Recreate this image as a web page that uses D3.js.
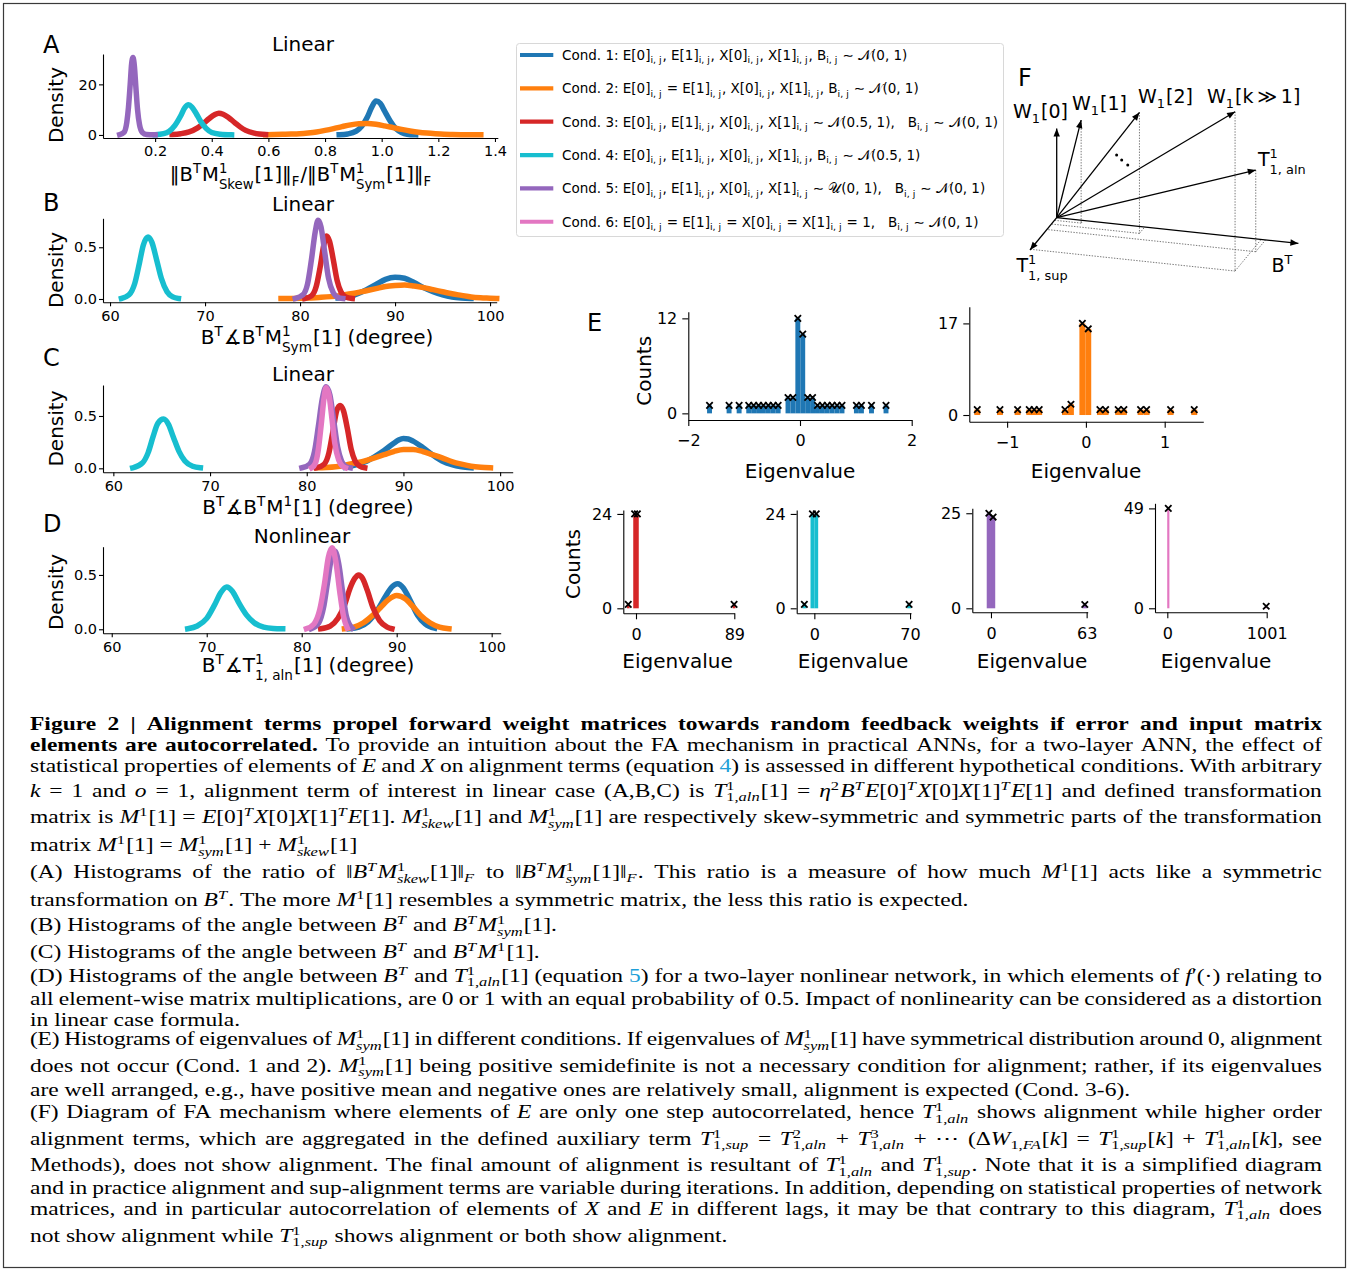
<!DOCTYPE html>
<html>
<head>
<meta charset="utf-8">
<title>Figure 2</title>
<script src="https://cdn.jsdelivr.net/npm/d3@7"></script>
<style>
  html, body { margin: 0; padding: 0; background: #fff; }
  svg text { white-space: pre; }
</style>
</head>
<body>
<svg id="fig" width="1349" height="1272" xmlns="http://www.w3.org/2000/svg"></svg>
<script>
// ---------- colours of the six conditions ----------
const condColors = ["#1f77b4", "#ff7f0e", "#d62728", "#17becf", "#9467bd", "#e377c2"];

// ---------- Panel A: ||B^T M_skew||_F / ||B^T M_sym||_F, density per condition ----------
const A_c1_x = [0.85, 0.88, 0.91, 0.93, 0.95, 0.965, 0.98, 0.995, 1.01, 1.03, 1.05, 1.07, 1.09, 1.12];
const A_c1_y = [0.1, 0.4, 1.5, 3.5, 7.2, 11, 13.4, 12.5, 9.5, 5.5, 2.5, 1.0, 0.3, 0.05];
const A_c2_x = [0.59, 0.62, 0.65, 0.68, 0.71, 0.74, 0.77, 0.80, 0.83, 0.86, 0.89, 0.92, 0.95, 0.98, 1.01, 1.04, 1.07, 1.10, 1.13, 1.16, 1.19, 1.22, 1.25, 1.28, 1.31, 1.35];
const A_c2_y = [0.1, 0.15, 0.25, 0.35, 0.5, 0.8, 1.2, 1.8, 2.5, 3.3, 4.0, 4.4, 4.5, 4.2, 3.6, 2.9, 2.2, 1.6, 1.1, 0.75, 0.5, 0.3, 0.2, 0.12, 0.08, 0.05];
const A_c3_x = [0.26, 0.29, 0.32, 0.35, 0.37, 0.39, 0.41, 0.425, 0.44, 0.46, 0.48, 0.50, 0.52, 0.55, 0.59];
const A_c3_y = [0.2, 0.5, 1.2, 2.8, 4.5, 6.4, 8.0, 8.6, 8.2, 6.8, 5.0, 3.2, 1.8, 0.7, 0.15];
const A_c4_x = [0.20, 0.23, 0.25, 0.27, 0.29, 0.305, 0.318, 0.33, 0.345, 0.36, 0.38, 0.40, 0.43, 0.47];
const A_c4_y = [0.1, 0.5, 1.5, 3.8, 7.5, 10.8, 11.9, 11.0, 8.5, 5.5, 2.6, 1.0, 0.3, 0.05];
const A_c5_x = [0.075, 0.09, 0.10, 0.106, 0.112, 0.117, 0.122, 0.127, 0.132, 0.138, 0.145, 0.155, 0.17, 0.2];
const A_c5_y = [0.1, 1.0, 5, 11, 20, 28, 30.6, 27, 19, 10, 4, 1, 0.2, 0.05];

// ---------- Panel B: angle between B^T and B^T M_sym (degree) ----------
const B_c1_x = [84, 85, 86, 87, 88, 89, 90, 91, 92, 93, 94, 95, 96, 97, 98];
const B_c1_y = [0.01, 0.02, 0.05, 0.09, 0.14, 0.19, 0.21, 0.2, 0.16, 0.11, 0.07, 0.04, 0.02, 0.01, 0.005];
const B_c2_x = [78, 80, 82, 84, 85, 86, 87, 88, 89, 90, 91, 92, 93, 94, 95, 96, 97, 98, 99, 100, 100.7];
const B_c2_y = [0.005, 0.008, 0.015, 0.03, 0.045, 0.06, 0.08, 0.1, 0.12, 0.13, 0.135, 0.125, 0.11, 0.09, 0.07, 0.05, 0.035, 0.02, 0.012, 0.008, 0.005];
const B_c3_x = [80.5, 81.2, 81.7, 82.1, 82.5, 82.8, 83.1, 83.5, 83.9, 84.3, 84.8, 85.5];
const B_c3_y = [0.005, 0.03, 0.12, 0.3, 0.52, 0.61, 0.56, 0.38, 0.18, 0.07, 0.02, 0.005];
const B_c4_x = [61.2, 62, 62.6, 63.1, 63.5, 64, 64.4, 64.9, 65.4, 66, 66.6, 67.2];
const B_c4_y = [0.005, 0.04, 0.15, 0.35, 0.52, 0.6, 0.55, 0.38, 0.2, 0.07, 0.02, 0.005];
const B_c5_x = [79.5, 80.3, 80.8, 81.2, 81.6, 81.9, 82.2, 82.6, 83.0, 83.5, 84.0, 84.5];
const B_c5_y = [0.005, 0.04, 0.15, 0.38, 0.65, 0.76, 0.7, 0.45, 0.2, 0.06, 0.015, 0.005];

// ---------- Panel C: angle between B^T and B^T M (degree) ----------
const C_c1_x = [84, 85, 86, 87, 88, 89, 89.5, 90, 90.5, 91, 92, 93, 94, 95, 96, 97];
const C_c1_y = [0.01, 0.03, 0.06, 0.11, 0.17, 0.24, 0.27, 0.285, 0.28, 0.26, 0.2, 0.13, 0.07, 0.035, 0.015, 0.005];
const C_c2_x = [81, 82, 83, 84, 85, 86, 87, 88, 89, 90, 91, 92, 93, 94, 95, 96, 97, 98, 99];
const C_c2_y = [0.005, 0.008, 0.015, 0.03, 0.05, 0.07, 0.1, 0.13, 0.16, 0.18, 0.18, 0.16, 0.13, 0.1, 0.065, 0.04, 0.02, 0.01, 0.005];
const C_c3_x = [81, 81.8, 82.3, 82.7, 83.1, 83.45, 83.8, 84.2, 84.6, 85, 85.5, 86];
const C_c3_y = [0.005, 0.04, 0.15, 0.35, 0.55, 0.6, 0.55, 0.38, 0.18, 0.07, 0.02, 0.005];
const C_c4_x = [62, 63, 63.6, 64.1, 64.6, 65.2, 65.7, 66.2, 66.8, 67.4, 68.2, 69];
const C_c4_y = [0.005, 0.05, 0.15, 0.3, 0.43, 0.47, 0.42, 0.3, 0.16, 0.07, 0.02, 0.005];
const C_c5_x = [79.5, 80.3, 80.8, 81.2, 81.6, 82, 82.4, 82.8, 83.2, 83.6, 84.0, 84.5];
const C_c5_y = [0.005, 0.04, 0.16, 0.4, 0.66, 0.78, 0.7, 0.45, 0.2, 0.07, 0.02, 0.005];
const C_c6_x = [80.5, 80.9, 81.2, 81.5, 81.8, 82, 82.3, 82.6, 82.9, 83.3, 83.7, 84.0];
const C_c6_y = [0.005, 0.05, 0.18, 0.42, 0.68, 0.77, 0.7, 0.48, 0.24, 0.08, 0.02, 0.005];

// ---------- Panel D: angle between B^T and T_aln, nonlinear network (degree) ----------
const D_c1_x = [85, 86, 87, 88, 88.8, 89.5, 90.1, 90.7, 91.4, 92.2, 93, 94];
const D_c1_y = [0.005, 0.02, 0.07, 0.18, 0.3, 0.39, 0.42, 0.38, 0.27, 0.13, 0.05, 0.01];
const D_c2_x = [84.5, 85.5, 86.5, 87.5, 88.3, 89.1, 90, 90.9, 91.7, 92.5, 93.5, 94.5, 95.5];
const D_c2_y = [0.005, 0.02, 0.06, 0.13, 0.2, 0.27, 0.31, 0.28, 0.21, 0.13, 0.06, 0.02, 0.005];
const D_c3_x = [82, 83, 83.8, 84.5, 85.1, 85.6, 86, 86.4, 86.9, 87.5, 88.2, 89, 89.5];
const D_c3_y = [0.005, 0.03, 0.1, 0.22, 0.38, 0.47, 0.5, 0.47, 0.36, 0.2, 0.08, 0.02, 0.005];
const D_c4_x = [68, 69, 70, 70.8, 71.5, 72.1, 72.7, 73.4, 74.2, 75, 76, 77, 78];
const D_c4_y = [0.005, 0.03, 0.1, 0.22, 0.34, 0.39, 0.35, 0.24, 0.13, 0.06, 0.02, 0.008, 0.005];
const D_c5_x = [81, 81.8, 82.3, 82.7, 83.1, 83.5, 83.9, 84.3, 84.7, 85.3];
const D_c5_y = [0.005, 0.06, 0.2, 0.42, 0.64, 0.72, 0.6, 0.35, 0.12, 0.01];
const D_c6_x = [80.5, 81.3, 81.9, 82.4, 82.8, 83.2, 83.6, 84, 84.4, 84.8];
const D_c6_y = [0.005, 0.05, 0.18, 0.42, 0.66, 0.75, 0.62, 0.35, 0.12, 0.01];

// ---------- Panel E: eigenvalue histograms of M_sym (bin centres and counts) ----------
const eig1Centers = [-1.62, -1.27, -1.09, -0.918, -0.830, -0.742, -0.655, -0.567, -0.479, -0.391, -0.215, -0.127, -0.039, 0.049, 0.137, 0.225, 0.313, 0.401, 0.488, 0.576, 0.664, 0.752, 1.01, 1.10, 1.28, 1.54];
const eig1Counts  = [1, 1, 1, 1, 1, 1, 1, 1, 1, 1, 2, 2, 12, 10, 2, 2, 1, 1, 1, 1, 1, 1, 1, 1, 1, 1];
const eig1BinWidth = 0.088;
const eig2Centers = [-1.379, -1.091, -0.867, -0.719, -0.656, -0.593, -0.266, -0.19, -0.045, 0.03, 0.178, 0.25, 0.41, 0.482, 0.694, 0.77, 1.075, 1.375];
const eig2Counts  = [1, 1, 1, 1, 1, 1, 1, 2, 17, 16, 1, 1, 1, 1, 1, 1, 1, 1];
const eig2BinWidth = 0.075;
const eig3Centers = [-7, -1.25, 1.25, 88.8];
const eig3Counts  = [1, 24, 24, 1];
const eig3BinWidth = 2.5;
const eig4Centers = [-7.3, -1.4, 1.4, 69.3];
const eig4Counts  = [1, 24, 24, 1];
const eig4BinWidth = 2.8;
const eig5Centers = [-1.4, 1.4, 61.8];
const eig5Counts  = [25, 24, 1];
const eig5BinWidth = 2.8;
const eig6Centers = [10, 996];
const eig6Counts  = [49, 1];
const eig6BinWidth = 22;

// ---------- Legend entries ----------
const legendLabels = [
  "Cond. 1: E[0]$_{i, j}$, E[1]$_{i, j}$, X[0]$_{i, j}$, X[1]$_{i, j}$, B$_{i, j}$ ∼ 𝒩(0, 1)",
  "Cond. 2: E[0]$_{i, j}$ = E[1]$_{i, j}$, X[0]$_{i, j}$, X[1]$_{i, j}$, B$_{i, j}$ ∼ 𝒩(0, 1)",
  "Cond. 3: E[0]$_{i, j}$, E[1]$_{i, j}$, X[0]$_{i, j}$, X[1]$_{i, j}$ ∼ 𝒩(0.5, 1),   B$_{i, j}$ ∼ 𝒩(0, 1)",
  "Cond. 4: E[0]$_{i, j}$, E[1]$_{i, j}$, X[0]$_{i, j}$, X[1]$_{i, j}$, B$_{i, j}$ ∼ 𝒩(0.5, 1)",
  "Cond. 5: E[0]$_{i, j}$, E[1]$_{i, j}$, X[0]$_{i, j}$, X[1]$_{i, j}$ ∼ 𝒰(0, 1),   B$_{i, j}$ ∼ 𝒩(0, 1)",
  "Cond. 6: E[0]$_{i, j}$ = E[1]$_{i, j}$ = X[0]$_{i, j}$ = X[1]$_{i, j}$ = 1,   B$_{i, j}$ ∼ 𝒩(0, 1)"
];

// ---------- Panel F: vectors in (B^T, T_sup, vertical) coordinates ----------
const fVecLabels = ["$W_1[0]$", "$W_1[1]$", "$W_1[2]$", "$W_1[k\\,\\gg\\,1]$", "$T^1_{1, aln}$"];
const fVecAlongB = [0, 0.11, 0.364, 0.846, 0.864];
const fVecAlongSup = [0, 0.08, 0.196, 0.978, 0.366];
const fVecHeight = [0.893, 1.03, 1.21, 1.593, 0.817];
const fDotsAlongB = [0.248, 0.269, 0.294];
const fDotsHeight = [0.691, 0.646, 0.603];

// ---------- Caption ----------
const captionLines = [
  "**Figure 2 | Alignment terms propel forward weight matrices towards random feedback weights if error and input matrix**",
  "**elements are autocorrelated.** To provide an intuition about the FA mechanism in practical ANNs, for a two-layer ANN, the effect of",
  "statistical properties of elements of $E$ and $X$ on alignment terms (equation @4@) is assessed in different hypothetical conditions. With arbitrary",
  "$k$ = 1 and $o$ = 1, alignment term of interest in linear case (A,B,C) is $T^1_{1,aln}[1]$ = $\\eta^2B^TE[0]^TX[0]X[1]^TE[1]$ and defined transformation",
  "matrix is $M^1[1]$ = $E[0]^TX[0]X[1]^TE[1]$. $M^1_{skew}[1]$ and $M^1_{sym}[1]$ are respectively skew-symmetric and symmetric parts of the transformation",
  "matrix $M^1[1]$ = $M^1_{sym}[1]$ + $M^1_{skew}[1]$",
  "(A) Histograms of the ratio of $\\|B^TM^1_{skew}[1]\\|_F$ to $\\|B^TM^1_{sym}[1]\\|_F$. This ratio is a measure of how much $M^1[1]$ acts like a symmetric",
  "transformation on $B^T$. The more $M^1[1]$ resembles a symmetric matrix, the less this ratio is expected.",
  "(B) Histograms of the angle between $B^T$ and $B^TM^1_{sym}[1]$.",
  "(C) Histograms of the angle between $B^T$ and $B^TM^1[1]$.",
  "(D) Histograms of the angle between $B^T$ and $T^1_{1,aln}[1]$ (equation @5@) for a two-layer nonlinear network, in which elements of $f'(\\cdot)$ relating to",
  "all element-wise matrix multiplications, are 0 or 1 with an equal probability of 0.5. Impact of nonlinearity can be considered as a distortion",
  "in linear case formula.",
  "(E) Histograms of eigenvalues of $M^1_{sym}[1]$ in different conditions. If eigenvalues of $M^1_{sym}[1]$ have symmetrical distribution around 0, alignment",
  "does not occur (Cond. 1 and 2). $M^1_{sym}[1]$ being positive semidefinite is not a necessary condition for alignment; rather, if its eigenvalues",
  "are well arranged, e.g., have positive mean and negative ones are relatively small, alignment is expected (Cond. 3-6).",
  "(F) Diagram of FA mechanism where elements of $E$ are only one step autocorrelated, hence $T^1_{1,aln}$ shows alignment while higher order",
  "alignment terms, which are aggregated in the defined auxiliary term $T^1_{1,sup}$ = $T^2_{1,aln}$ + $T^3_{1,aln}$ + $\\cdots$ ($\\Delta W_{1,FA}[k]$ = $T^1_{1,sup}[k]$ + $T^1_{1,aln}[k]$, see",
  "Methods), does not show alignment. The final amount of alignment is resultant of $T^1_{1,aln}$ and $T^1_{1,sup}$. Note that it is a simplified diagram",
  "and in practice alignment and sup-alignment terms are variable during iterations. In addition, depending on statistical properties of network",
  "matrices, and in particular autocorrelation of elements of $X$ and $E$ in different lags, it may be that contrary to this diagram, $T^1_{1,aln}$ does",
  "not show alignment while $T^1_{1,sup}$ shows alignment or both show alignment."
];
const captionJustified = [1, 1, 1, 1, 1, 0, 1, 0, 0, 0, 1, 1, 0, 1, 1, 0, 1, 1, 1, 1, 1, 0];

// =====================================================================
const SANS = "DejaVu Sans";
const SERIF = "Liberation Serif";
const LINK = "#1e9fd8";
const svg = d3.select("#fig");
svg.append("rect").attr("width", 1349).attr("height", 1272).attr("fill", "#fff");
svg.append("rect").attr("x", 3.5).attr("y", 3.5).attr("width", 1342).attr("height", 1264)
  .attr("fill", "none").attr("stroke", "#3a3a3a").attr("stroke-width", 1.2);

// ---------- small rich-text engine: $math$, ^{sup}, _{sub}, **bold**, @link@ ----------
const measurer = svg.append("text").attr("x", -2000).attr("y", -2000).style("white-space", "pre");
const widthCache = new Map();
function textWidth(t, fam, size, weight, style) {
  const key = [t, fam, size, weight, style].join("|");
  if (widthCache.has(key)) return widthCache.get(key);
  measurer.attr("font-family", fam).attr("font-size", size).attr("font-weight", weight).attr("font-style", style).text(t);
  const w = measurer.node().getComputedTextLength();
  widthCache.set(key, w);
  return w;
}
const CMD = { eta: "η", Delta: "Δ", cdots: "⋯", cdot: "·", angle: "∡", gg: "≫", sim: "∼", "|": "‖", ",": "\u2009" };

function parseRich(src, italicMath) {
  const atoms = [];
  let i = 0, bold = false, math = false, color = null;
  const italicChar = ch => italicMath && /[A-Za-zη]/.test(ch);
  function add(list, ch, st) {
    const last = list[list.length - 1];
    if (last && last.type === "text" && last.bold === st.bold && last.italic === st.italic && last.color === st.color) last.t += ch;
    else list.push({ type: "text", t: ch, bold: st.bold, italic: st.italic, color: st.color });
  }
  function readCmd(s, j) {
    const m = /^\\([A-Za-z]+|.)/.exec(s.slice(j));
    return [CMD[m[1]] !== undefined ? CMD[m[1]] : m[1], m[0].length];
  }
  function readGroup() {
    if (src[i] === "{") {
      let d = 1, j = i + 1;
      while (d) { if (src[j] === "{") d++; else if (src[j] === "}") d--; j++; }
      const g = src.slice(i + 1, j - 1); i = j; return g;
    }
    if (src[i] === "\\") { const m = /^\\([A-Za-z]+|.)/.exec(src.slice(i)); i += m[0].length; return m[0]; }
    return src[i++];
  }
  function groupRuns(g) {
    const runs = []; let j = 0;
    while (j < g.length) {
      if (g[j] === "\\") { const [s, n] = readCmd(g, j); j += n; add(runs, s, { bold, italic: italicChar(s), color }); continue; }
      add(runs, g[j], { bold, italic: italicChar(g[j]), color }); j++;
    }
    return runs;
  }
  while (i < src.length) {
    const c = src[i];
    if (src.startsWith("**", i)) { bold = !bold; i += 2; continue; }
    if (c === "$") { math = !math; i++; continue; }
    if (c === "@") { color = color ? null : LINK; i++; continue; }
    if (math) {
      if (c === " ") { i++; continue; }
      if (c === "^" || c === "_") {
        const sc = { type: "script", sup: null, sub: null };
        while (i < src.length && (src[i] === "^" || src[i] === "_")) {
          const k = src[i++]; const g = readGroup();
          if (k === "^") sc.sup = groupRuns(g); else sc.sub = groupRuns(g);
        }
        atoms.push(sc); continue;
      }
      if (c === "\\") { const [s, n] = readCmd(src, i); i += n; add(atoms, s, { bold, italic: italicChar(s), color }); continue; }
      if (c === "'") { add(atoms, "′", { bold, italic: false, color }); i++; continue; }
      add(atoms, c, { bold, italic: italicChar(c), color }); i++; continue;
    }
    if (c === " ") { atoms.push({ type: "space" }); i++; continue; }
    add(atoms, c, { bold, italic: false, color }); i++;
  }
  return atoms;
}

function richText(parent, src, o) {
  const fam = o.family || SANS, size = o.size, ss = size * (o.scriptScale || 0.7);
  const baseWeight = o.weight || "normal";
  const atoms = parseRich(src, !!o.italicMath);
  const fw = r => (r.bold ? "bold" : baseWeight);
  const fs = r => (r.italic ? "italic" : "normal");
  const spaceW = textWidth("x x", fam, size, baseWeight, "normal") - textWidth("xx", fam, size, baseWeight, "normal");
  let nChars = 0;
  atoms.forEach(a => {
    if (a.type === "space") a.w = spaceW;
    else if (a.type === "text") { a.w = textWidth(a.t, fam, size, fw(a), fs(a)); nChars += [...a.t].length; }
    else {
      a.supW = a.sup ? d3.sum(a.sup, r => (r.w = textWidth(r.t, fam, ss, fw(r), fs(r)))) : 0;
      a.subW = a.sub ? d3.sum(a.sub, r => (r.w = textWidth(r.t, fam, ss, fw(r), fs(r)))) : 0;
      a.w = Math.max(a.supW, a.subW) + size * 0.05;
    }
  });
  const natural = d3.sum(atoms, a => a.w);
  const nSp = atoms.filter(a => a.type === "space").length;
  let extra = 0, ls = 0;
  if (o.justify) {
    let gap = o.justify - natural;
    if (nSp) { extra = Math.max(-0.15 * spaceW, Math.min(gap / nSp, spaceW * (o.maxStretch || 1.0))); gap -= extra * nSp; }
    if (nChars) ls = gap / nChars;
  }
  const total = natural + extra * nSp + ls * nChars;
  let x = o.anchor === "middle" ? o.x - total / 2 : o.anchor === "end" ? o.x - total : o.x;
  const text = parent.append("text").attr("font-family", fam).attr("font-size", size)
    .attr("font-weight", baseWeight).attr("fill", o.fill || "#000").style("white-space", "pre");
  const put = (r, px, py, fsz) => {
    const t = text.append("tspan").attr("x", px.toFixed(2)).attr("y", py.toFixed(2)).text(r.t);
    if (fsz) t.attr("font-size", fsz);
    if (r.bold) t.attr("font-weight", "bold");
    if (r.italic) t.attr("font-style", "italic");
    if (r.color) t.attr("fill", r.color);
    if (ls && !fsz) t.attr("letter-spacing", ls.toFixed(3));
  };
  atoms.forEach(a => {
    if (a.type === "space") { x += a.w + extra; return; }
    if (a.type === "text") { put(a, x, o.y); x += a.w + ls * [...a.t].length; return; }
    const supDy = size * (o.supRaise !== undefined ? o.supRaise : 0.38);
    const subDy = size * (a.sup ? (o.subDropStack !== undefined ? o.subDropStack : 0.3) : (o.subDrop !== undefined ? o.subDrop : 0.22));
    if (a.sup) { let sx = x; a.sup.forEach(r => { put(r, sx, o.y - supDy, ss); sx += r.w; }); }
    if (a.sub) { let sx = x; a.sub.forEach(r => { put(r, sx, o.y + subDy, ss); sx += r.w; }); }
    x += a.w;
  });
  return text;
}

function plainText(parent, txt, x, y, o = {}) {
  return parent.append("text").attr("x", x).attr("y", y)
    .attr("font-family", o.family || SANS).attr("font-size", o.size || 20)
    .attr("text-anchor", o.anchor || "start").attr("fill", "#000")
    .attr("transform", o.rotate ? `rotate(-90,${x},${y})` : null).text(txt);
}

function styleAxis(a, size) {
  a.attr("font-family", SANS).attr("font-size", size);
  a.selectAll("path, line").attr("stroke", "#000").attr("stroke-width", 1.1);
  a.selectAll("text").attr("fill", "#000");
}

// script placement used by the sans-serif figure labels
const labelScripts = { scriptScale: 0.68, supRaise: 0.4, subDropStack: 0.4, subDrop: 0.24 };

// ---------- density panels A–D ----------
const densityPanels = [
  { letter: "A", title: "Linear", xDomain: [0.016, 1.41], xRange: [103, 497.8], yDomain: [-1.2, 32], yRange: [138, 54],
    xTicks: [0.2, 0.4, 0.6, 0.8, 1.0, 1.2, 1.4], xFmt: d3.format(".1f"), yTicks: [0, 20], yFmt: d3.format("d"),
    series: [[A_c1_x, A_c1_y, 0], [A_c2_x, A_c2_y, 1], [A_c3_x, A_c3_y, 2], [A_c4_x, A_c4_y, 3], [A_c5_x, A_c5_y, 4]],
    letterPos: [43, 53], titlePos: [303, 51], ylabelPos: [62.5, 105],
    xlabel: "$\\|B^TM^1_{Skew}[1]\\|_F/\\|B^TM^1_{Sym}[1]\\|_F$", xlabelPos: [301, 181], xlabelSize: 19.5 },
  { letter: "B", title: "Linear", xDomain: [59.26, 100.7], xRange: [103, 496.7], yDomain: [-0.032, 0.78], yRange: [302.3, 218.3],
    xTicks: [60, 70, 80, 90, 100], xFmt: d3.format("d"), yTicks: [0, 0.5], yFmt: d3.format(".1f"),
    series: [[B_c1_x, B_c1_y, 0], [B_c2_x, B_c2_y, 1], [B_c3_x, B_c3_y, 2], [B_c4_x, B_c4_y, 3], [B_c5_x, B_c5_y, 4]],
    letterPos: [43, 211], titlePos: [303, 210.7], ylabelPos: [62.5, 270],
    xlabel: "$B^T\\angle B^TM^1_{Sym}[1]$ (degree)", xlabelPos: [317, 344], xlabelSize: 20 },
  { letter: "C", title: "Linear", xDomain: [58.93, 101.3], xRange: [103, 512.7], yDomain: [-0.038, 0.796], yRange: [472.3, 385],
    xTicks: [60, 70, 80, 90, 100], xFmt: d3.format("d"), yTicks: [0, 0.5], yFmt: d3.format(".1f"),
    series: [[C_c1_x, C_c1_y, 0], [C_c2_x, C_c2_y, 1], [C_c3_x, C_c3_y, 2], [C_c4_x, C_c4_y, 3], [C_c5_x, C_c5_y, 4], [C_c6_x, C_c6_y, 5]],
    letterPos: [43, 366], titlePos: [303, 380.7], ylabelPos: [62.5, 428.5],
    xlabel: "$B^T\\angle B^TM^1[1]$ (degree)", xlabelPos: [308, 514], xlabelSize: 20 },
  { letter: "D", title: "Nonlinear", xDomain: [59.08, 100.95], xRange: [103, 500.7], yDomain: [-0.037, 0.76], yRange: [633.3, 546.7],
    xTicks: [60, 70, 80, 90, 100], xFmt: d3.format("d"), yTicks: [0, 0.5], yFmt: d3.format(".1f"),
    series: [[D_c1_x, D_c1_y, 0], [D_c2_x, D_c2_y, 1], [D_c3_x, D_c3_y, 2], [D_c4_x, D_c4_y, 3], [D_c5_x, D_c5_y, 4], [D_c6_x, D_c6_y, 5]],
    letterPos: [43, 532], titlePos: [302, 542.7], ylabelPos: [62.5, 592],
    xlabel: "$B^T\\angle T^1_{1, aln}[1]$ (degree)", xlabelPos: [308, 672], xlabelSize: 20 }
];

densityPanels.forEach(p => {
  const x = d3.scaleLinear().domain(p.xDomain).range(p.xRange);
  const y = d3.scaleLinear().domain(p.yDomain).range(p.yRange);
  const g = svg.append("g");
  const xa = g.append("g").attr("transform", `translate(0,${p.yRange[0]})`)
    .call(d3.axisBottom(x).tickValues(p.xTicks).tickFormat(p.xFmt).tickSizeOuter(0).tickSizeInner(4).tickPadding(4));
  const ya = g.append("g").attr("transform", `translate(${p.xRange[0]},0)`)
    .call(d3.axisLeft(y).tickValues(p.yTicks).tickFormat(p.yFmt).tickSizeOuter(0).tickSizeInner(4).tickPadding(2));
  styleAxis(xa, 14.5); styleAxis(ya, 14.5);
  const line = d3.line().x(d => x(d[0])).y(d => y(d[1])).curve(d3.curveMonotoneX);
  p.series.forEach(([xs, ys, c]) => {
    g.append("path").datum(d3.zip(xs, ys)).attr("d", line).attr("fill", "none")
      .attr("stroke", condColors[c]).attr("stroke-width", 5.5)
      .attr("stroke-linejoin", "round").attr("stroke-linecap", "square");
  });
  plainText(g, p.letter, p.letterPos[0], p.letterPos[1], { size: 24 });
  plainText(g, p.title, p.titlePos[0], p.titlePos[1], { size: 20, anchor: "middle" });
  plainText(g, "Density", p.ylabelPos[0], p.ylabelPos[1], { size: 20, anchor: "middle", rotate: true });
  richText(g, p.xlabel, Object.assign({ x: p.xlabelPos[0], y: p.xlabelPos[1], size: p.xlabelSize, anchor: "middle" }, labelScripts));
});

// ---------- legend ----------
const legend = svg.append("g");
legend.append("rect").attr("x", 516.5).attr("y", 43.5).attr("width", 487).attr("height", 193).attr("rx", 3)
  .attr("fill", "#fff").attr("stroke", "#d8d8d8").attr("stroke-width", 1);
legendLabels.forEach((lab, i) => {
  const cy = 55 + i * 33.35;
  legend.append("line").attr("x1", 520).attr("x2", 553.3).attr("y1", cy).attr("y2", cy)
    .attr("stroke", condColors[i]).attr("stroke-width", 4.2);
  richText(legend, lab, { x: 562, y: cy + 5, size: 13.5, anchor: "start", subDrop: 0.25 });
});

// ---------- panel E: eigenvalue histograms ----------
const eigenPanels = [
  { centers: eig1Centers, counts: eig1Counts, binWidth: eig1BinWidth, cond: 0, xDomain: [-2, 2], xRange: [688.3, 911.7],
    yDomain: [-0.84, 12.84], yRange: [420, 311.7], xTicks: [-2, 0, 2], yTicks: [0, 12], xlabelPos: [800, 478] },
  { centers: eig2Centers, counts: eig2Counts, binWidth: eig2BinWidth, cond: 1, xDomain: [-1.48, 1.49], xRange: [969.3, 1203.3],
    yDomain: [-1.24, 20.1], yRange: [421.7, 306.7], xTicks: [-1, 0, 1], yTicks: [0, 17], xlabelPos: [1086, 478] },
  { centers: eig3Centers, counts: eig3Counts, binWidth: eig3BinWidth, cond: 2, xDomain: [-11.5, 89], xRange: [623.3, 734.3],
    yDomain: [-1.27, 25.0], yRange: [613.3, 510], xTicks: [0, 89], yTicks: [0, 24], xlabelPos: [677.5, 668] },
  { centers: eig4Centers, counts: eig4Counts, binWidth: eig4BinWidth, cond: 3, xDomain: [-12.9, 70.7], xRange: [796.7, 911],
    yDomain: [-1.27, 25.0], yRange: [613.3, 510], xTicks: [0, 70], yTicks: [0, 24], xlabelPos: [853, 668] },
  { centers: eig5Centers, counts: eig5Counts, binWidth: eig5BinWidth, cond: 4, xDomain: [-12.3, 63.7], xRange: [972.3, 1087.7],
    yDomain: [-1.05, 26.3], yRange: [612.3, 508.3], xTicks: [0, 63], yTicks: [0, 25], xlabelPos: [1032, 668] },
  { centers: eig6Centers, counts: eig6Counts, binWidth: eig6BinWidth, cond: 5, xDomain: [-124, 1001], xRange: [1155, 1266.7],
    yDomain: [-1.97, 51.5], yRange: [612.3, 503.3], xTicks: [0, 1001], yTicks: [0, 49], xlabelPos: [1216, 668] }
];

eigenPanels.forEach(p => {
  const x = d3.scaleLinear().domain(p.xDomain).range(p.xRange);
  const y = d3.scaleLinear().domain(p.yDomain).range(p.yRange);
  const g = svg.append("g");
  const bins = d3.zip(p.centers, p.counts);
  g.selectAll("rect").data(bins).join("rect")
    .attr("x", d => x(d[0] - p.binWidth / 2))
    .attr("width", d => x(d[0] + p.binWidth / 2) - x(d[0] - p.binWidth / 2))
    .attr("y", d => y(d[1])).attr("height", d => y(0) - y(d[1]))
    .attr("fill", condColors[p.cond]);
  const xa = g.append("g").attr("transform", `translate(0,${p.yRange[0]})`)
    .call(d3.axisBottom(x).tickValues(p.xTicks).tickFormat(d3.format("d")).tickSizeOuter(0).tickSizeInner(6).tickPadding(9));
  const ya = g.append("g").attr("transform", `translate(${p.xRange[0]},0)`)
    .call(d3.axisLeft(y).tickValues(p.yTicks).tickFormat(d3.format("d")).tickSizeOuter(0).tickSizeInner(6).tickPadding(5));
  styleAxis(xa, 16); styleAxis(ya, 16);
  g.selectAll("path.cross").data(bins).join("path").attr("class", "cross")
    .attr("transform", d => `translate(${x(d[0])},${y(d[1])})`)
    .attr("d", "M-3.2,-3.2L3.2,3.2M-3.2,3.2L3.2,-3.2")
    .attr("stroke", "#000").attr("stroke-width", 1.8).attr("fill", "none");
  plainText(g, "Eigenvalue", p.xlabelPos[0], p.xlabelPos[1], { size: 20, anchor: "middle" });
});
plainText(svg, "E", 587, 330.5, { size: 24 });
plainText(svg, "Counts", 651.5, 370.8, { size: 20, anchor: "middle", rotate: true });
plainText(svg, "Counts", 580, 564, { size: 20, anchor: "middle", rotate: true });

// ---------- panel F: diagram of the alignment mechanism ----------
const fOrigin = [1056.7, 217.7];
const fDirB = [241.7, 25.7];
const fDirSup = [-26.7, 32.3];
const fDirUp = [0, -100];
const proj = (a, c, h) => [
  fOrigin[0] + a * fDirB[0] + c * fDirSup[0] + h * fDirUp[0],
  fOrigin[1] + a * fDirB[1] + c * fDirSup[1] + h * fDirUp[1]
];
const fg = svg.append("g");
const defs = svg.append("defs");
defs.append("marker").attr("id", "arrowHead").attr("viewBox", "-9 -5 10 10").attr("refX", 0).attr("refY", 0)
  .attr("markerWidth", 10).attr("markerHeight", 10).attr("markerUnits", "userSpaceOnUse").attr("orient", "auto")
  .append("path").attr("d", "M-8,-3.2L0,0L-8,3.2Z").attr("fill", "#000");
const dotted = (p1, p2) => fg.append("line").attr("x1", p1[0]).attr("y1", p1[1]).attr("x2", p2[0]).attr("y2", p2[1])
  .attr("stroke", "#555").attr("stroke-width", 0.8).attr("stroke-dasharray", "1.4,1.4");
const arrow = (p1, p2) => fg.append("line").attr("x1", p1[0]).attr("y1", p1[1]).attr("x2", p2[0]).attr("y2", p2[1])
  .attr("stroke", "#000").attr("stroke-width", 1.3).attr("marker-end", "url(#arrowHead)");
fVecAlongB.forEach((a, i) => {
  const c = fVecAlongSup[i], h = fVecHeight[i];
  if (a === 0 && c === 0) return;
  const floor = proj(a, c, 0);
  dotted(proj(a, c, h), floor);
  dotted(floor, proj(a, 0, 0));
  dotted(floor, proj(0, c, 0));
});
arrow(proj(0, 0, 0), proj(1, 0, 0));
arrow(proj(0, 0, 0), proj(0, 1, 0));
fVecAlongB.forEach((a, i) => arrow(proj(0, 0, 0), proj(a, fVecAlongSup[i], fVecHeight[i])));
fDotsAlongB.forEach((a, i) => {
  const p = proj(a, 0, fDotsHeight[i]);
  fg.append("circle").attr("cx", p[0]).attr("cy", p[1]).attr("r", 1.5).attr("fill", "#000");
});
const fLabelPos = [[1013, 118.3], [1072, 110], [1138, 103.3], [1207, 103.3], [1258, 166]];
fVecLabels.forEach((lab, i) => richText(fg, lab, Object.assign({ x: fLabelPos[i][0], y: fLabelPos[i][1], size: 19, anchor: "start" }, labelScripts)));
richText(fg, "$B^T$", Object.assign({ x: 1271.5, y: 271.7, size: 19, anchor: "start" }, labelScripts));
richText(fg, "$T^1_{1, sup}$", Object.assign({ x: 1016.5, y: 272, size: 19, anchor: "start" }, labelScripts));
plainText(fg, "F", 1018, 85.7, { size: 24 });

// ---------- caption ----------
const captionBaselines = [730, 751.5, 772, 797, 823.5, 851.5, 878.5, 906.5, 931.5, 958.5, 982, 1005.5, 1026, 1045.5, 1072, 1096.5, 1118.5, 1145, 1171.5, 1194, 1215, 1242];
const capScaleX = 1.27, capLeft = 30, capWidth = 1292;
const cap = svg.append("g").attr("transform", `translate(${capLeft},0) scale(${capScaleX},1)`);
captionLines.forEach((ln, i) => {
  richText(cap, ln, {
    x: 0, y: captionBaselines[i], family: SERIF, size: 18.5, anchor: "start", italicMath: true,
    justify: captionJustified[i] ? capWidth / capScaleX : null, maxStretch: 0.9,
    scriptScale: 0.7, supRaise: 0.4, subDrop: 0.2, subDropStack: 0.22
  });
});

measurer.remove();
</script>
</body>
</html>
